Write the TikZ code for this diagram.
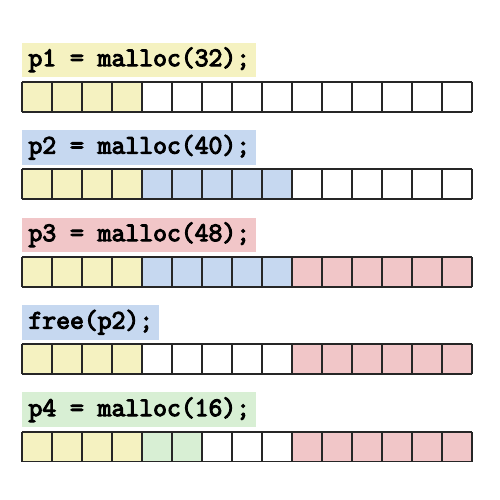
\documentclass[tikz,border=0pt]{standalone}
\usepackage{fontspec}
\newfontfamily\codefont{Latin Modern Mono}[AutoFakeBold=4]
\definecolor{yel}{HTML}{F5F2C1}
\definecolor{blu}{HTML}{C6D8F0}
\definecolor{pnk}{HTML}{F1C6C8}
\definecolor{grn}{HTML}{D8EFD4}

\begin{document}
\begin{tikzpicture}[x=30pt,y=30pt,
  codebox/.style={anchor=south west,inner xsep=6pt,inner ysep=0pt,minimum height=34.5pt,
    font=\codefont\bfseries\fontsize{26.9}{30}\selectfont},
  memrow/.style={draw=black!85,line width=1.6pt}]

  \useasboundingbox (-0.743,0) rectangle (15.923,16.667);

  % p1 = malloc(32);
  \begin{scope}[shift={(0,12.943)}]
    \fill[yel] (0,0) rectangle (4,1);
    \draw[memrow] (0,0) grid[step=1] (15,1);
    \node[codebox,fill=yel] (p1) at (0,1.15) {p1 = malloc(32);};
  \end{scope}

  % p2 = malloc(40);
  \begin{scope}[shift={(0,10.026)}]
    \fill[yel] (0,0) rectangle (4,1);
    \fill[blu] (4,0) rectangle (9,1);
    \draw[memrow] (0,0) grid[step=1] (15,1);
    \node[codebox,fill=blu] (p2) at (0,1.15) {p2 = malloc(40);};
  \end{scope}

  % p3 = malloc(48);
  \begin{scope}[shift={(0,7.11)}]
    \fill[yel] (0,0) rectangle (4,1);
    \fill[blu] (4,0) rectangle (9,1);
    \fill[pnk] (9,0) rectangle (15,1);
    \draw[memrow] (0,0) grid[step=1] (15,1);
    \node[codebox,fill=pnk] (p3) at (0,1.15) {p3 = malloc(48);};
  \end{scope}

  % free(p2);
  \begin{scope}[shift={(0,4.193)}]
    \fill[yel] (0,0) rectangle (4,1);
    \fill[pnk] (9,0) rectangle (15,1);
    \draw[memrow] (0,0) grid[step=1] (15,1);
    \node[codebox,fill=blu] (fp2) at (0,1.15) {free(p2);};
  \end{scope}

  % p4 = malloc(16);
  \begin{scope}[shift={(0,1.277)}]
    \fill[yel] (0,0) rectangle (4,1);
    \fill[grn] (4,0) rectangle (6,1);
    \fill[pnk] (9,0) rectangle (15,1);
    \draw[memrow] (0,0) grid[step=1] (15,1);
    \node[codebox,fill=grn] (p4) at (0,1.15) {p4 = malloc(16);};
  \end{scope}

\end{tikzpicture}
\end{document}
